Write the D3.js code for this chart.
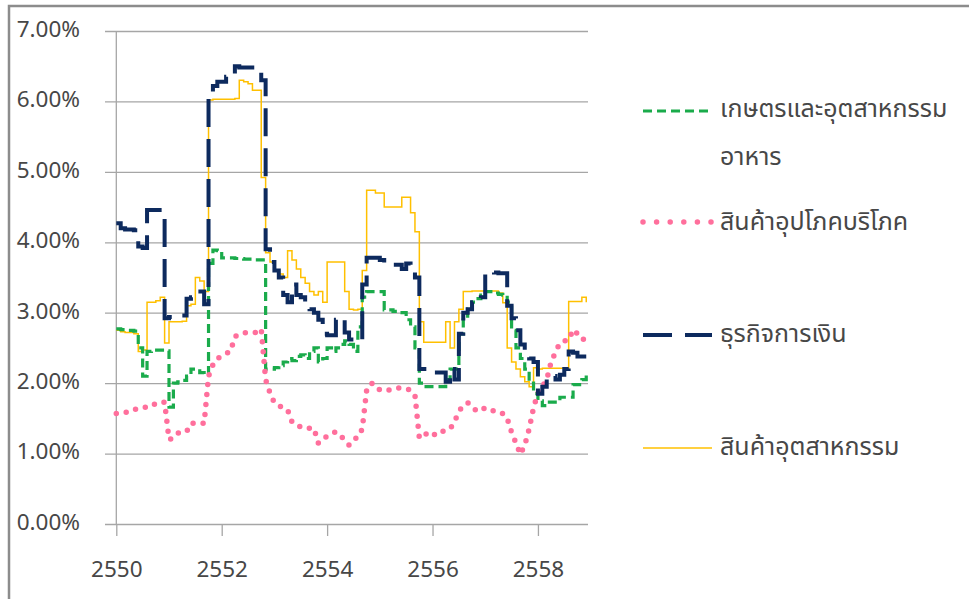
<!DOCTYPE html>
<html>
<head>
<meta charset="utf-8">
<script src="https://cdn.jsdelivr.net/npm/d3@7"></script>
<style>
  html, body { margin: 0; padding: 0; background: #fff; }
  svg { display: block; font-family: "Noto Sans Thai", "Noto Sans", "Open Sans", sans-serif; }
  .tick text { font-family: "Noto Sans", "Open Sans", sans-serif; }
</style>
</head>
<body>
<svg id="chart" width="969" height="599"></svg>
<script>
// Monthly series, Buddhist-era years 2550 to 2558 (first value = January 2550)
const startYear = 2550;
const yearTicks = [2550, 2552, 2554, 2556, 2558];
const percentTicks = [0, 1, 2, 3, 4, 5, 6, 7];

const seriesNames = ["เกษตรและอุตสาหกรรมอาหาร", "สินค้าอุปโภคบริโภค", "ธุรกิจการเงิน", "สินค้าอุตสาหกรรม"];

// เกษตรและอุตสาหกรรมอาหาร (%)
const agroFood = [
  2.77, 2.76, 2.75, 2.75, 2.74,
  2.50, 2.10, 2.45, 2.47, 2.47, 2.47, 2.46,
  1.66, 2.00, 2.02, 2.04, 2.10, 2.20, 2.20, 2.15, 2.12,
  3.70, 3.89, 3.88, 3.78, 3.78, 3.78, 3.77, 3.77, 3.76, 3.76, 3.75, 3.75, 3.75,
  2.20, 2.20, 2.22, 2.25, 2.30, 2.35, 2.32, 2.38, 2.40, 2.35, 2.45, 2.50, 2.30, 2.35,
  2.50, 2.45, 2.50, 2.55, 2.60, 2.55, 2.45, 2.80,
  3.22, 3.30, 3.30, 3.30, 3.30, 3.04, 3.04, 3.02, 3.00, 3.00, 2.90, 2.80, 2.50,
  2.00, 1.95, 1.95, 1.95, 1.95, 1.95, 2.05, 2.20, 2.20,
  2.70, 2.95, 3.05, 3.15, 3.20, 3.25, 3.30, 3.30, 3.28, 3.26, 3.25, 3.15,
  2.75, 2.50, 2.35, 2.20, 2.00, 1.85, 1.75, 1.68, 1.73, 1.73, 1.73, 1.80, 1.80, 1.80, 1.98, 1.98, 2.05, 2.12
];

// สินค้าอุปโภคบริโภค (%)
const consumerGoods = [
  1.57, 1.57, 1.58, 1.60, 1.63, 1.63, 1.65, 1.66, 1.70, 1.70, 1.73, 1.73,
  1.20, 1.22, 1.29, 1.30, 1.31, 1.43, 1.43, 1.43, 1.43,
  2.10, 2.26, 2.35, 2.38, 2.42, 2.45, 2.66, 2.70, 2.71, 2.72, 2.72, 2.72, 2.77,
  2.05, 1.86, 1.72, 1.68, 1.65, 1.62, 1.45, 1.43, 1.37, 1.36, 1.36, 1.36,
  1.15, 1.22, 1.24, 1.28, 1.31, 1.25, 1.20, 1.12, 1.20, 1.23, 1.35,
  1.90, 2.00, 1.98, 1.90, 1.90, 1.90, 1.92, 1.93, 1.93, 1.92, 1.90, 1.83,
  1.22, 1.24, 1.31, 1.28, 1.26, 1.31, 1.33, 1.35, 1.45, 1.60, 1.68, 1.72,
  1.68, 1.60, 1.62, 1.65, 1.64, 1.60, 1.57, 1.57, 1.50, 1.30, 1.15, 0.99,
  1.12, 1.35, 1.65, 1.86, 1.95, 2.05, 2.30, 2.44, 2.57, 2.60, 2.61, 2.76, 2.70, 2.68, 2.52
];

// ธุรกิจการเงิน (%)
const finance = [
  4.27, 4.20, 4.18, 4.18, 4.17, 3.94, 3.92, 4.46, 4.46, 4.46, 4.46,
  2.92, 2.94, 2.94, 2.95, 2.96, 3.20, 3.22, 3.30, 3.30, 3.12,
  6.10, 6.22, 6.28, 6.28, 6.35, 6.35, 6.50, 6.48, 6.48, 6.48, 6.48, 6.42, 6.30,
  3.90, 3.72, 3.60, 3.50, 3.25, 3.15, 3.40, 3.25, 3.22, 3.10, 3.05, 3.00, 2.90, 2.70,
  2.68, 2.68, 2.90, 2.92, 2.72, 2.62, 2.60, 2.62,
  3.40, 3.78, 3.78, 3.78, 3.75, 3.70, 3.68, 3.68, 3.68, 3.62, 3.70, 3.65, 3.50,
  2.20, 2.20, 2.20, 2.20, 2.15, 2.15, 2.02, 2.20, 2.05,
  2.70, 3.00, 3.05, 3.15, 3.20, 3.22,
  3.58, 3.58, 3.57, 3.56, 3.56, 3.10, 2.92, 2.75, 2.55, 2.45, 2.35, 2.30,
  1.85, 1.95, 2.10, 2.10, 2.05, 2.12, 2.20, 2.45, 2.43, 2.38, 2.38, 2.38
];

// สินค้าอุตสาหกรรม (%)
const industrial = [
  2.75, 2.73, 2.72, 2.72, 2.70, 2.45, 2.47, 3.15, 3.15, 3.17, 3.22,
  2.57, 2.87, 2.87, 2.87, 2.88, 3.10, 3.12, 3.50, 3.45, 3.30,
  6.02, 6.03, 6.03, 6.03, 6.03, 6.03, 6.04, 6.30, 6.28, 6.25, 6.16, 6.16, 4.92,
  3.85, 3.72, 3.60, 3.55, 3.50, 3.88, 3.75, 3.62, 3.50, 3.42, 3.30, 3.25, 3.30, 3.15,
  3.72, 3.72, 3.72, 3.72, 3.30, 3.05, 3.04, 3.05,
  3.60, 4.74, 4.74, 4.70, 4.70, 4.50, 4.50, 4.50, 4.50, 4.64, 4.64, 4.42, 4.15,
  2.87, 2.58, 2.58, 2.58, 2.58, 2.58, 2.87, 2.50, 2.87,
  3.05, 3.30, 3.30, 3.31, 3.31, 3.31, 3.31, 3.31, 3.31, 3.28, 3.14,
  2.50, 2.30, 2.20, 2.09, 2.02, 1.95, 2.22, 2.20, 2.21, 2.21, 2.21, 2.21, 2.21, 2.21,
  3.16, 3.16, 3.16, 3.22, 3.15
];

const svg = d3.select("#chart");

// outer frame (top and left edges)
svg.append("path")
  .attr("d", "M9,599 V6 H969")
  .attr("fill", "none")
  .attr("stroke", "#8c8c8c")
  .attr("stroke-width", 2.5);

const plot = { left: 116.3, right: 588, top: 31, bottom: 524 };

const x = d3.scaleLinear().domain([2550, 2558.95]).range([plot.left, plot.right]);
const y = d3.scaleLinear().domain([0, 7]).range([plot.bottom, plot.top]);

const gridColor = "#a6a6a6";
const textColor = "#474747";

// horizontal gridlines + percent labels
const yAxis = svg.append("g")
  .attr("transform", `translate(${plot.right},0)`)
  .call(d3.axisLeft(y)
    .tickValues(percentTicks)
    .tickSize(plot.right - 105)
    .tickPadding(25)
    .tickFormat(d => d3.format(".2%")(d / 100)));
yAxis.select(".domain").remove();
yAxis.selectAll(".tick line").attr("stroke", gridColor).attr("stroke-width", 1.3);
yAxis.selectAll(".tick text")
  .attr("fill", textColor)
  .style("font-size", "22.5px")
  .attr("dy", "0.24em");

// vertical axis line
svg.append("line")
  .attr("x1", plot.left).attr("x2", plot.left)
  .attr("y1", y(7)).attr("y2", y(0))
  .attr("stroke", gridColor).attr("stroke-width", 1.3);

// year axis
const xAxis = svg.append("g")
  .attr("transform", `translate(0,${plot.bottom})`)
  .call(d3.axisBottom(x)
    .tickValues(yearTicks)
    .tickSize(12)
    .tickPadding(25)
    .tickFormat(d3.format("d")));
xAxis.select(".domain").remove();
xAxis.selectAll(".tick line").attr("stroke", gridColor).attr("stroke-width", 1.3);
xAxis.selectAll(".tick text").attr("fill", textColor).style("font-size", "22.5px");

const monthX = i => x(startYear + i / 12);

const series = [
  { name: seriesNames[0], values: agroFood, color: "#1aab4b", width: 3.2, dash: "9,5", cap: "butt", curve: d3.curveStepAfter, legendDash: "9,5", legendY: 111 },
  { name: seriesNames[1], values: consumerGoods, color: "#ff6f9c", width: 5.5, dash: "0,10", cap: "round", curve: d3.curveLinear, legendDash: "0,13.6", legendY: 222 },
  { name: seriesNames[2], values: finance, color: "#0d2a5e", width: 4, dash: "28,12", cap: "butt", curve: d3.curveStepAfter, legendDash: "29,13", legendY: 335 },
  { name: seriesNames[3], values: industrial, color: "#ffc000", width: 1.5, dash: null, cap: "butt", curve: d3.curveStepAfter, legendDash: null, legendY: 448 }
];

const drawOrder = [3, 0, 1, 2];
drawOrder.forEach(k => {
  const s = series[k];
  const line = d3.line()
    .x((d, i) => monthX(i))
    .y(d => y(d))
    .curve(s.curve);
  svg.append("path")
    .datum(s.values)
    .attr("d", line)
    .attr("fill", "none")
    .attr("stroke", s.color)
    .attr("stroke-width", s.width)
    .attr("stroke-dasharray", s.dash)
    .attr("stroke-linecap", s.cap)
    .attr("stroke-linejoin", "miter");
});

// legend
const legend = svg.append("g");
series.forEach(s => {
  legend.append("line")
    .attr("x1", 643).attr("x2", 712)
    .attr("y1", s.legendY).attr("y2", s.legendY)
    .attr("stroke", s.color)
    .attr("stroke-width", s.width)
    .attr("stroke-dasharray", s.legendDash)
    .attr("stroke-linecap", s.cap);
});

const legendText = legend.append("g")
  .attr("fill", textColor)
  .style("font-size", "25px");

legendText.append("text").attr("x", 720).attr("y", 117).text("เกษตรและอุตสาหกรรม");
legendText.append("text").attr("x", 720).attr("y", 165).text("อาหาร");
legendText.append("text").attr("x", 720).attr("y", 230).text(seriesNames[1]);
legendText.append("text").attr("x", 720).attr("y", 342).text(seriesNames[2]);
legendText.append("text").attr("x", 720).attr("y", 455).text(seriesNames[3]);
</script>
</body>
</html>
